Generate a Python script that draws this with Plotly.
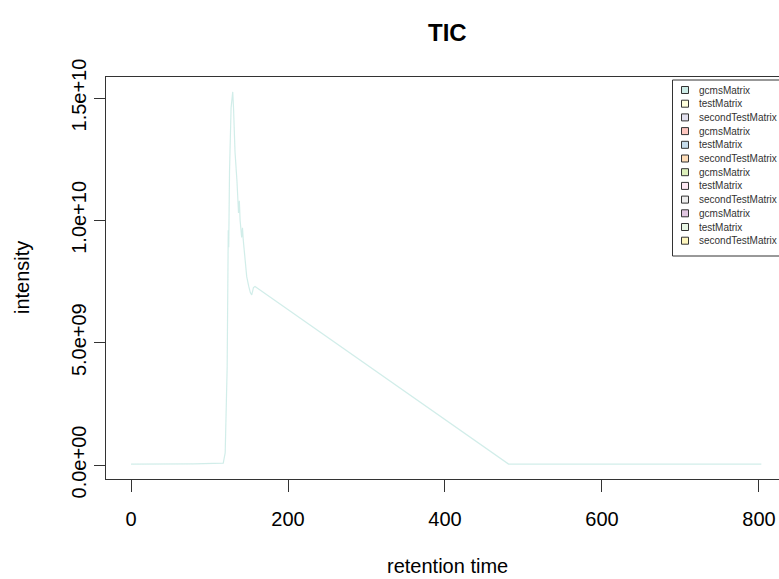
import plotly.graph_objects as go

# Total ion chromatogram: retention time vs summed intensity
retention_time = [0, 40, 80, 117.5, 120, 122.5, 123.3, 123.9, 124.5, 125.5, 127.5,
                  129.6, 130.6, 132.5, 135, 137, 138, 139, 141, 142, 143, 145,
                  147.4, 150, 152, 153.8, 156, 158, 481, 600, 803]
intensity = [0.04e9, 0.04e9, 0.05e9, 0.08e9, 0.5e9, 4.0e9, 9.0e9, 9.6e9, 8.9e9,
             12.0e9, 14.6e9, 15.25e9, 14.6e9, 12.8e9, 11.6e9, 10.3e9, 10.8e9,
             10.0e9, 9.3e9, 9.7e9, 9.2e9, 8.5e9, 7.7e9, 7.3e9, 7.05e9, 6.95e9,
             7.25e9, 7.3e9, 0.04e9, 0.04e9, 0.04e9]

x_ticks = [0, 200, 400, 600, 800]
y_ticks = [0, 5e9, 1e10, 1.5e10]
y_tick_labels = ["0.0e+00", "5.0e+09", "1.0e+10", "1.5e+10"]

legend_names = ["gcmsMatrix", "testMatrix", "secondTestMatrix"] * 4
legend_colors = ["#8DD3C7", "#FFFFB3", "#BEBADA", "#FB8072", "#80B1D3", "#FDB462",
                 "#B3DE69", "#FCCDE5", "#D9D9D9", "#BC80BD", "#CCEBC5", "#FFED6F"]

W, H = 779, 579
L, R, T, B = 106, 0, 77, 100
PW, PH = W - L - R, H - T - B
FONT = "Liberation Sans, Arial, sans-serif"
AXIS_COL = "#333333"


def rgba(hex_col, a):
    h = hex_col.lstrip("#")
    r, g, b = int(h[0:2], 16), int(h[2:4], 16), int(h[4:6], 16)
    return f"rgba({r},{g},{b},{a})"


def px(xpix):
    return (xpix - L) / PW


def py(ypix):
    return (H - B - ypix) / PH


fig = go.Figure()
fig.add_trace(go.Scatter(
    x=retention_time, y=intensity, mode="lines",
    line=dict(color=rgba(legend_colors[0], 0.4), width=1.2),
    showlegend=False, hoverinfo="skip"))

shapes = []
annotations = []

# legend box with filled squares
shapes.append(dict(type="rect", xref="paper", yref="paper",
                   x0=px(672.5), x1=px(820), y0=py(256), y1=py(80),
                   line=dict(color=AXIS_COL, width=1), fillcolor="white", layer="above"))
for i, (name, col) in enumerate(zip(legend_names, legend_colors)):
    yc = 90 + 13.7 * i
    shapes.append(dict(type="rect", xref="paper", yref="paper",
                       x0=px(681.5), x1=px(688.5), y0=py(yc + 3.5), y1=py(yc - 3.5),
                       line=dict(color=AXIS_COL, width=1), fillcolor=rgba(col, 0.45),
                       layer="above"))
    annotations.append(dict(text=name, xref="paper", yref="paper",
                            x=px(697), y=py(yc), xanchor="left", yanchor="middle",
                            showarrow=False, font=dict(family=FONT, size=10, color="#333")))

# titles
annotations.append(dict(text="<b>TIC</b>", xref="paper", yref="paper",
                        x=px(447), y=py(32), xanchor="center", yanchor="middle",
                        showarrow=False, font=dict(family=FONT, size=24, color="black")))
annotations.append(dict(text="retention time", xref="paper", yref="paper",
                        x=px(447), y=py(566), xanchor="center", yanchor="middle",
                        showarrow=False, font=dict(family=FONT, size=20, color="black")))
annotations.append(dict(text="intensity", xref="paper", yref="paper",
                        x=px(22), y=py(278), xanchor="center", yanchor="middle",
                        textangle=-90, showarrow=False,
                        font=dict(family=FONT, size=20, color="black")))

fig.update_layout(
    width=W, height=H,
    margin=dict(l=L, r=R, t=T, b=B, pad=0),
    paper_bgcolor="white", plot_bgcolor="white",
    showlegend=False,
    shapes=shapes, annotations=annotations,
    xaxis=dict(range=[-31.85, 825.5], tickvals=x_ticks, ticks="outside", ticklen=12,
               tickwidth=1.3, tickcolor=AXIS_COL, showline=True, linecolor=AXIS_COL,
               linewidth=1.3, mirror=True, showgrid=False, zeroline=False,
               ticklabelstandoff=10,
               tickfont=dict(family=FONT, size=20, color="black")),
    yaxis=dict(range=[-0.572e9, 15.86e9], tickvals=y_ticks, ticktext=y_tick_labels,
               tickangle=-90, ticks="outside", ticklen=11, tickwidth=1.3,
               tickcolor=AXIS_COL, showline=True, linecolor=AXIS_COL, linewidth=1.3,
               showgrid=False, zeroline=False,
               tickfont=dict(family=FONT, size=20, color="black")),
)

fig.write_html("out.html")
